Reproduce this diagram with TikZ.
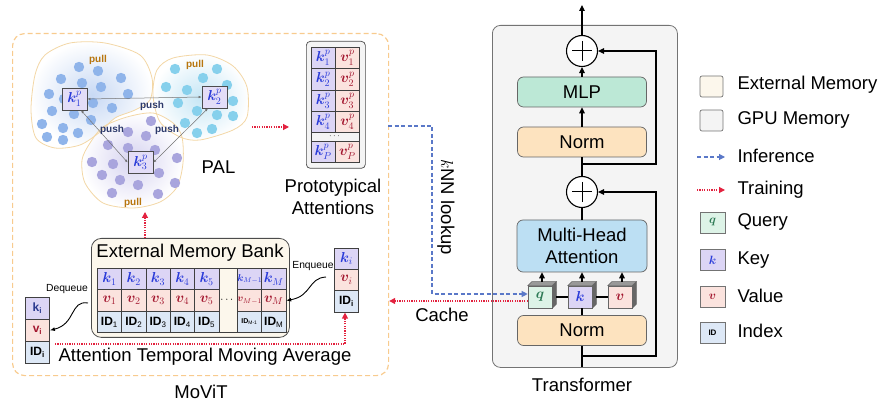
\documentclass[tikz,border=0pt]{standalone}
\usepackage{amsmath,bm}
\usepackage{fontspec}
\setmainfont{Liberation Sans}
\usetikzlibrary{arrows.meta,calc}
\definecolor{kfill}{HTML}{DCD5F5}
\definecolor{vfill}{HTML}{FBE3DE}
\definecolor{idfill}{HTML}{DDE8F6}
\definecolor{qfill}{HTML}{DDF3E7}
\definecolor{ktext}{HTML}{2A3BD9}
\definecolor{vtext}{HTML}{A3172F}
\definecolor{qtext}{HTML}{2D7A55}
\definecolor{kdark}{HTML}{2B3A8F}
\definecolor{mlpfill}{HTML}{BCE8D6}
\definecolor{mhafill}{HTML}{BCDFF3}
\definecolor{normfill}{HTML}{FDE3BF}
\definecolor{gpufill}{HTML}{F4F4F4}
\definecolor{extfill}{HTML}{FCF7EC}
\definecolor{movit}{HTML}{F8CB8E}
\definecolor{infc}{HTML}{5A78C8}
\definecolor{trainc}{HTML}{E3223F}
\definecolor{dotA}{HTML}{8FB4EA}
\definecolor{dotB}{HTML}{86D0EC}
\definecolor{dotC}{HTML}{A9A5DD}
\definecolor{blobline}{HTML}{F3D7A6}
\definecolor{pushc}{HTML}{2D3A6B}
\definecolor{pullc}{HTML}{B8760E}
\definecolor{blobA}{HTML}{C8D9F4}
\definecolor{blobB}{HTML}{C6E6F5}
\definecolor{blobC}{HTML}{D6D3F0}
\begin{document}
\begin{tikzpicture}[x=1pt,y=-1pt,
  lbl/.style={font=\fontsize{18.5}{22}\selectfont},
  small/.style={font=\fontsize{10.3}{12}\selectfont},
  arr/.style={-{Triangle[length=6pt,width=5.5pt]},line width=1.2pt},
  ln/.style={line width=1.2pt},
  infarrow/.style={-{Triangle[length=6pt,width=6pt]},draw=infc,line width=1.1pt,dash pattern=on 4pt off 2.5pt},
  trainarrow/.style={-{Triangle[length=6pt,width=6pt]},draw=trainc,line width=1.2pt,dash pattern=on 1.2pt off 1.2pt},
  blk/.style={draw=black!60,line width=0.7pt,rounded corners=6pt,minimum width=129pt,minimum height=30pt,inner sep=0pt,lbl},
  bcell/.style={draw=black!75,line width=0.6pt,inner sep=0pt,minimum width=24.3pt,minimum height=21.5pt,anchor=north west,font=\fontsize{12}{12}\selectfont},
  mcell/.style={font=\fontsize{14.4}{14.4}\selectfont},
  pcell/.style={draw=black!75,line width=0.6pt,inner sep=0pt,minimum width=24.3pt,minimum height=21.3pt,anchor=north west,font=\fontsize{14.4}{14.4}\selectfont},
  kpbox/.style={draw=black!70,line width=0.7pt,fill=kfill!80,inner sep=0pt,minimum width=25pt,minimum height=22pt,text=ktext,font=\fontsize{14.4}{14.4}\selectfont},
  cubef/.style={draw=black!60,line width=0.6pt,inner sep=0pt,minimum width=24pt,minimum height=22pt,font=\fontsize{14.4}{14.4}\selectfont},
  lbox/.style={draw=black!55,line width=0.7pt,rounded corners=2pt,minimum width=23pt,minimum height=21pt,inner sep=0pt,font=\fontsize{12}{12}\selectfont},
  pushl/.style={text=pushc,font=\fontsize{10}{12}\selectfont\bfseries},
  pulll/.style={text=pullc,font=\fontsize{10}{12}\selectfont\bfseries},
  pusharr/.style={{Latex[length=3pt,width=2.5pt]}-{Latex[length=3pt,width=2.5pt]},draw=black!55,line width=0.5pt}
]
\useasboundingbox (0,0) rectangle (881,403);

% ---------------- MoViT frame
\node[draw=movit,line width=1.2pt,dash pattern=on 5pt off 3pt,rounded corners=12pt,minimum width=376pt,minimum height=342pt,anchor=north west,inner sep=0pt] (movit) at (12,33) {};
\node[lbl] (movitl) at (201,392) {MoViT};

% ---------------- PAL clusters
\shade[inner color=blobA,outer color=white] plot[smooth cycle] coordinates {(45,55) (70,43) (105,43) (140,55) (152,78) (150,100) (135,110) (115,118) (100,132) (80,145) (55,148) (36,138) (31,110) (35,75)};
\shade[inner color=blobB,outer color=white] plot[smooth cycle] coordinates {(157,70) (173,58) (207,55) (233,66) (247,87) (247,117) (233,130) (200,140) (180,137) (160,122) (153,95)};
\shade[inner color=blobC,outer color=white] plot[smooth cycle] coordinates {(103,127) (127,117) (153,113) (173,123) (182,137) (183,163) (177,187) (160,202) (133,208) (103,203) (85,183) (82,160) (90,143)};
\draw[blobline,line width=0.8pt] plot[smooth cycle] coordinates {(45,55) (70,43) (105,43) (140,55) (152,78) (150,100) (135,110) (115,118) (100,132) (80,145) (55,148) (36,138) (31,110) (35,75)};
\draw[blobline,line width=0.8pt] plot[smooth cycle] coordinates {(157,70) (173,58) (207,55) (233,66) (247,87) (247,117) (233,130) (200,140) (180,137) (160,122) (153,95)};
\draw[blobline,line width=0.8pt] plot[smooth cycle] coordinates {(103,127) (127,117) (153,113) (173,123) (182,137) (183,163) (177,187) (160,202) (133,208) (103,203) (85,183) (82,160) (90,143)};

\foreach \x/\y in {79/67,98/71,121/78,61/79,82/83,101/87,49/94,128/94,64/99,93/103,52/111,74/114,91/120,112/108,42/124,63/128,78/133,47/137,63/140}
  \fill[dotA] (\x,\y) circle (5.2pt);
\foreach \x/\y in {175/69,217/69,203/78,166/87,187/90,227/85,178/103,233/101,197/111,217/115,233/116,185/123,197/133,212/129}
  \fill[dotB] (\x,\y) circle (5.2pt);
\foreach \x/\y in {151/121,128/132,146/136,108/145,128/148,155/150,177/158,92/162,113/164,159/173,102/175,120/180,138/185,175/183,112/193,158/194,140/160}
  \fill[dotC] (\x,\y) circle (5.2pt);

\node[kpbox] (kp1) at (74.5,99) {$\bm{k}^{p}_{1}$};
\node[kpbox] (kp2) at (214.5,97) {$\bm{k}^{p}_{2}$};
\node[kpbox] (kp3) at (140.5,162.5) {$\bm{k}^{p}_{3}$};
\draw[pusharr] (kp1.east) -- (kp2.west);
\draw[pusharr] (kp1.-60) -- (kp3.west);
\draw[pusharr] (kp2.-120) -- (kp3.east);
\node[pushl] (push1) at (152,106) {push};
\node[pushl] (push2) at (112,130) {push};
\node[pushl] (push3) at (167,130) {push};
\node[pulll] (pull1) at (98,60) {pull};
\node[pulll] (pull2) at (195,65) {pull};
\node[pulll] (pull3) at (133,203) {pull};
\node[lbl] (pal) at (218.5,167) {PAL};

% ---------------- Prototypical attentions
\node[draw=black!70,fill=gpufill,line width=0.7pt,rounded corners=4pt,minimum width=59pt,minimum height=127pt,anchor=north west,inner sep=0pt] (proto) at (306,41) {};
\foreach \i/\yy in {1/47,2/68.3,3/89.6,4/110.9} {
  \node[pcell,fill=kfill,text=ktext] (pk\i) at (310.7,\yy) {$\bm{k}^{p}_{\i}$};
  \node[pcell,fill=vfill,text=vtext] (pv\i) at (335,\yy) {$\bm{v}^{p}_{\i}$};
}
\node[draw=black!75,line width=0.6pt,inner sep=0pt,minimum width=48.6pt,minimum height=8.5pt,anchor=north west,fill=gpufill] (pdots) at (310.7,132.2) {};
\node[font=\fontsize{9}{9}\selectfont] (pdotst) at (pdots.center) {$\cdots$};
\node[pcell,fill=kfill,text=ktext] (pkP) at (310.7,140.7) {$\bm{k}^{p}_{P}$};
\node[pcell,fill=vfill,text=vtext] (pvP) at (335,140.7) {$\bm{v}^{p}_{P}$};
\node[lbl,align=center] (protol) at (333,196.5) {Prototypical\\Attentions};

% ---------------- External memory bank
\node[draw=black!70,fill=extfill,line width=0.8pt,rounded corners=10pt,minimum width=198pt,minimum height=99pt,anchor=north west,inner sep=0pt] (bank) at (91,238) {};
\node[lbl] (bankl) at (190,253) {External Memory Bank};
\foreach \i in {1,...,5} {
  \pgfmathsetmacro{\xx}{97+(\i-1)*24.3}
  \node[bcell,mcell,fill=kfill,text=ktext] (bk\i) at (\xx,268) {$\bm{k}_{\i}$};
  \node[bcell,mcell,fill=vfill,text=vtext] (bv\i) at (\xx,289.5) {$\bm{v}_{\i}$};
  \node[bcell,fill=idfill] (bid\i) at (\xx,311) {\textbf{ID}\textsubscript{\i}};
}
\node[draw=black!75,line width=0.6pt,inner sep=0pt,minimum width=18.5pt,minimum height=64.5pt,anchor=north west] (bdots) at (218.5,268) {};
\node[font=\fontsize{11}{11}\selectfont] (bdotst) at (227.7,300) {$\cdots$};
\node[bcell,fill=kfill,text=ktext,font=\fontsize{10}{10}\selectfont] (bkM1) at (237,268) {$\bm{k}_{M-1}$};
\node[bcell,fill=vfill,text=vtext,font=\fontsize{10}{10}\selectfont] (bvM1) at (237,289.5) {$\bm{v}_{M-1}$};
\node[bcell,fill=idfill,font=\fontsize{7}{7}\selectfont] (bidM1) at (237,311) {\textbf{ID}\textsubscript{M-1}};
\node[bcell,mcell,fill=kfill,text=ktext] (bkM) at (261.3,268) {$\bm{k}_{M}$};
\node[bcell,mcell,fill=vfill,text=vtext] (bvM) at (261.3,289.5) {$\bm{v}_{M}$};
\node[bcell,fill=idfill] (bidM) at (261.3,311) {\textbf{ID}\textsubscript{M}};

% left (dequeued) stack
\node[bcell,fill=kfill,text=kdark,minimum height=22pt] (lk) at (25,297) {\textbf{k}\textsubscript{\textbf{i}}};
\node[bcell,fill=vfill,text=vtext,minimum height=22pt] (lv) at (25,319) {\textbf{v}\textsubscript{\textbf{i}}};
\node[bcell,fill=idfill,minimum height=22pt] (lid) at (25,341) {\textbf{ID}\textsubscript{\textbf{i}}};
% right (enqueued) stack
\node[bcell,mcell,fill=kfill,text=ktext,minimum height=21pt] (rk) at (334,248) {$\bm{k}_{i}$};
\node[bcell,mcell,fill=vfill,text=vtext,minimum height=21pt] (rv) at (334,269) {$\bm{v}_{i}$};
\node[bcell,fill=idfill,minimum height=22pt] (rid) at (334,290) {\textbf{ID}\textsubscript{\textbf{i}}};

\node[small] (deq) at (67,289) {Dequeue};
\node[small] (enq) at (313,266) {Enqueue};
\coordinate (deqs) at (88,303);
\coordinate (enqs) at (326,277);
\draw[-{Latex[length=5pt,width=4pt]},line width=0.9pt] (deqs) .. controls (70,300) and (76,324) .. (lv.east);
\draw[-{Latex[length=5pt,width=4pt]},line width=0.9pt] (enqs) .. controls (308,278) and (312,296) .. (bvM.east);

\node[lbl] (atma) at (205,357) {Attention Temporal Moving Average};
\coordinate (tmas) at (55,344);
\coordinate (tmac) at (345,344);
\draw[trainarrow] (tmas) -- (tmac) -- (rid.south -| tmac);

% training arrows inside MoViT
\coordinate (b2p) at (145,238);
\coordinate (b2pe) at (145,212);
\draw[trainarrow] (b2p) -- (b2pe);
\coordinate (pals) at (252,127);
\coordinate (pale) at (289,127);
\draw[trainarrow] (pals) -- (pale);

% ---------------- Transformer
\node[draw=black!55,fill=gpufill,line width=0.8pt,rounded corners=8pt,minimum width=185pt,minimum height=342pt,anchor=north west,inner sep=0pt] (tbox) at (492,25) {};
\node[lbl] (tl) at (582,385) {Transformer};
\node[circle,draw,line width=1.1pt,fill=white,minimum size=31pt,inner sep=0pt] (p1) at (582,51) {};
\node[circle,draw,line width=1.1pt,fill=white,minimum size=31pt,inner sep=0pt] (p2) at (582,192) {};
\draw[line width=1pt] ($(p1.center)+(-10,0)$) -- ($(p1.center)+(10,0)$) ($(p1.center)+(0,-10)$) -- ($(p1.center)+(0,10)$);
\draw[line width=1pt] ($(p2.center)+(-10,0)$) -- ($(p2.center)+(10,0)$) ($(p2.center)+(0,-10)$) -- ($(p2.center)+(0,10)$);
\node[blk,fill=mlpfill] (mlp) at (582,92) {MLP};
\node[blk,fill=normfill] (n1) at (582,142) {Norm};
\node[blk,fill=mhafill,minimum width=130pt,minimum height=52pt,align=center] (mha) at (582,246) {Multi-Head\\Attention};
\node[blk,fill=normfill] (n2) at (582,330.5) {Norm};
\coordinate (top) at (582,5);
\coordinate (bot) at (582,367);
\coordinate (br1) at (582,164);
\coordinate (br2) at (582,356);
\coordinate (rx) at (656,0);
\draw[arr] (p1.north) -- (top);
\draw[arr] (mlp.north) -- (p1.south);
\draw[arr] (n1.north) -- (mlp.south);
\draw[ln] (p2.north) -- (n1.south);
\draw[ln] (mha.north) -- (p2.south);
\draw[ln] (bot) -- (n2.south);
\draw[arr] (br1) -- (br1 -| rx) -- (p1.east -| rx) -- (p1.east);
\draw[arr] (br2) -- (br2 -| rx) -- (p2.east -| rx) -- (p2.east);

% cubes
\node[cubef,fill=qfill,text=qtext] (cq) at (540,297) {$\bm{q}$};
\node[cubef,fill=kfill,text=ktext] (ck) at (580,297) {$\bm{k}$};
\node[cubef,fill=vfill,text=vtext] (cv) at (620,297) {$\bm{v}$};
\foreach \c in {cq,ck,cv} {
  \filldraw[fill=black!40,draw=black!60,line width=0.5pt] (\c.north west) -- ++(4,-4) -- ($(\c.north east)+(4,-4)$) -- (\c.north east) -- cycle;
  \filldraw[fill=black!60,draw=black!60,line width=0.5pt] (\c.north east) -- ++(4,-4) -- ($(\c.south east)+(4,-4)$) -- (\c.south east) -- cycle;
  \coordinate (a\c) at ($(\c.north)+(2,-4)$);
  \draw[arr] (a\c) -- (a\c |- mha.south);
}
\draw[ln] ($(cq.east)+(4,0)$) -- (ck.west);
\draw[ln] ($(ck.east)+(4,0)$) -- (cv.west);
\draw[ln] (n2.north) -- (n2.north |- ck.south);

% ---------------- inference / cache connectors
\coordinate (infs) at (388,126);
\coordinate (infx) at (432,126);
\coordinate (infq) at ($(cq.west)+(0,-3)$);
\draw[infarrow] (infs) -- (infx) -- (infx |- infq) -- (infq);
\coordinate (cachq) at ($(cq.west)+(0,4)$);
\draw[trainarrow] (cachq) -- (cachq -| movit.east);
\node[lbl] (cachel) at (442,315) {Cache};
\node[lbl,rotate=-90] (knn) at (446,207) {$k$NN lookup};

% ---------------- Legend
\node[lbox,fill=extfill] (lg1) at (711.5,86.5) {};
\node[lbl,anchor=west] (lg1t) at (734,85) {External Memory};
\node[lbox,fill=gpufill] (lg2) at (711.5,120.5) {};
\node[lbl,anchor=west] (lg2t) at (734,120) {GPU Memory};
\coordinate (lg3a) at (697,157);
\coordinate (lg3b) at (725,157);
\draw[infarrow] (lg3a) -- (lg3b);
\node[lbl,anchor=west] (lg3t) at (734,156) {Inference};
\coordinate (lg4a) at (697,190);
\coordinate (lg4b) at (725,190);
\draw[trainarrow] (lg4a) -- (lg4b);
\node[lbl,anchor=west] (lg4t) at (734,190) {Training};
\node[lbox,fill=qfill,text=qtext,rounded corners=0pt,minimum width=25pt] (lg5) at (712.5,222.5) {$\bm{q}$};
\node[lbl,anchor=west] (lg5t) at (734,222) {Query};
\node[lbox,fill=kfill,text=ktext,rounded corners=0pt,minimum width=25pt] (lg6) at (712.5,260) {$\bm{k}$};
\node[lbl,anchor=west] (lg6t) at (734,260) {Key};
\node[lbox,fill=vfill,text=vtext,rounded corners=0pt,minimum width=25pt] (lg7) at (712.5,297) {$\bm{v}$};
\node[lbl,anchor=west] (lg7t) at (734,296) {Value};
\node[lbox,fill=idfill,rounded corners=0pt,minimum width=25pt,font=\fontsize{8}{8}\selectfont\bfseries] (lg8) at (712.5,332.5) {ID};
\node[lbl,anchor=west] (lg8t) at (734,331) {Index};
\end{tikzpicture}
\end{document}
